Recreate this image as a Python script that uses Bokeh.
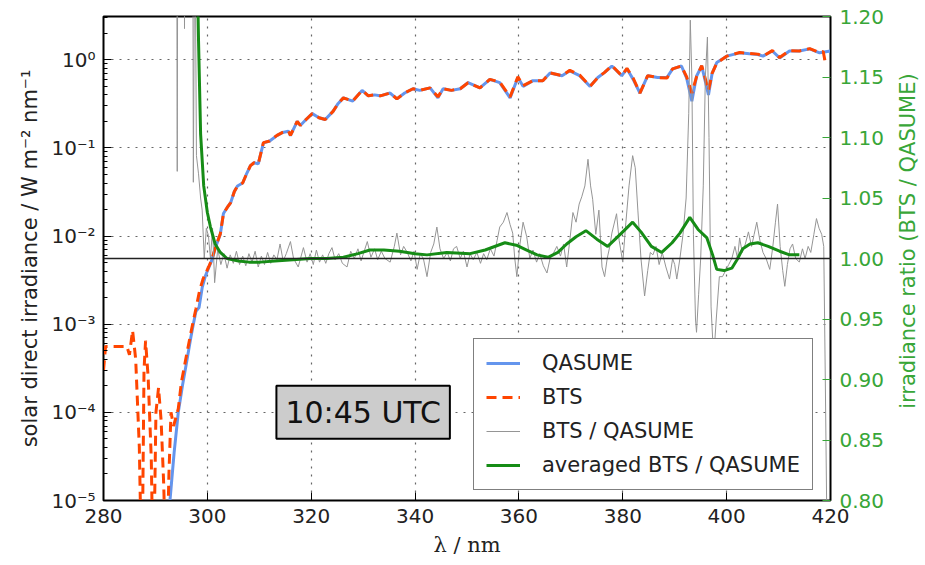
import math
from bokeh.plotting import figure
from bokeh.layouts import row
from bokeh.models import (Range1d, LinearScale, LinearAxis, FixedTicker, Legend,
                          LegendItem, Label, Span, NumeralTickFormatter)
from bokeh.embed import file_html
from bokeh.resources import INLINE

# ---------------- data ----------------
wl_qasume = [292.0, 292.8, 293.6, 294.4, 295.2, 296.1, 296.8, 297.3, 297.8, 298.4,
             299.0, 299.6, 300.2, 300.8, 301.6, 302.5, 303.1, 303.8, 304.5, 305.2,
             305.8, 306.8, 307.5, 308.3, 309.0, 309.8, 310.8, 312.0, 313.4, 314.5,
             315.6, 316.0, 317.3, 317.9, 319.0, 320.2, 321.5, 322.7, 324.2, 325.2,
             326.2, 328.0, 329.8, 331.0, 332.2, 333.3, 335.2, 336.5, 338.0, 339.6,
             340.9, 342.9, 344.4, 345.4, 347.0, 348.7, 350.2, 352.5, 354.4, 356.3,
             358.3, 359.8, 360.8, 362.7, 364.6, 366.0, 368.3, 369.8, 371.7, 373.7,
             375.2, 376.5, 377.9, 379.8, 380.8, 382.0, 383.3, 384.8, 386.7, 388.5,
             389.6, 391.3, 392.3, 393.3, 394.2, 395.2, 396.5, 397.2, 398.1, 400.0,
             402.5, 404.4, 406.0, 407.0, 408.8, 410.2, 412.1, 414.0, 416.0, 417.9,
             420.0]
qasume = [1e-6, 1e-5, 3.5e-5, 1e-4, 2e-4, 4e-4, 7e-4, 1e-3, 1.4e-3, 1.55e-3,
          2.6e-3, 3.5e-3, 4.3e-3, 5.2e-3, 7.5e-3, 1.05e-2, 1.8e-2, 2.1e-2, 2.4e-2, 3.2e-2,
          3.7e-2, 4.0e-2, 5.0e-2, 6.3e-2, 6.8e-2, 6.6e-2, 0.114, 0.12, 0.138, 0.15,
          0.155, 0.138, 0.20, 0.18, 0.21, 0.245, 0.22, 0.21, 0.26, 0.32,
          0.37, 0.34, 0.45, 0.39, 0.40, 0.39, 0.42, 0.36, 0.42, 0.47,
          0.45, 0.48, 0.37, 0.47, 0.45, 0.47, 0.55, 0.48, 0.60, 0.55,
          0.37, 0.63, 0.50, 0.58, 0.58, 0.71, 0.66, 0.75, 0.66, 0.50,
          0.63, 0.72, 0.85, 0.66, 0.79, 0.60, 0.42, 0.66, 0.63, 0.63,
          0.79, 0.85, 0.62, 0.34, 0.65, 0.85, 0.40, 0.70, 0.93, 1.10,
          1.20, 1.17, 1.15, 1.10, 1.26, 1.05, 1.26, 1.26, 1.33, 1.20,
          1.26]

wl_bts = [280.0, 280.4, 284.5, 285.0, 285.6, 286.2, 286.9, 287.4, 287.8, 288.1,
          288.6, 289.2, 289.6, 290.1, 290.6, 291.1, 291.6, 292.1, 292.6, 293.0,
          293.5, 294.0, 294.4, 295.0, 296.0, 297.0, 297.8, 298.5, 299.2, 300.2,
          300.8, 301.6, 302.5, 303.1, 303.8, 304.5, 305.2, 305.8, 306.8, 307.5,
          308.3, 309.0, 309.8, 310.8, 312.0, 313.4, 314.5, 315.6, 316.0, 317.3,
          317.9, 319.0, 320.2, 321.5, 322.7, 324.2, 325.2, 326.2, 328.0, 329.8,
          331.0, 332.2, 333.3, 335.2, 336.5, 338.0, 339.6, 340.9, 342.9, 344.4,
          345.4, 347.0, 348.7, 350.2, 352.5, 354.4, 356.3, 358.3, 359.8, 360.8,
          362.7, 364.6, 366.0, 368.3, 369.8, 371.7, 373.7, 375.2, 376.5, 377.9,
          379.8, 380.8, 382.0, 383.3, 384.8, 386.7, 388.5, 389.6, 391.3, 392.3,
          393.3, 394.2, 395.2, 396.5, 397.2, 398.1, 400.0, 402.5, 404.4, 406.0,
          407.0, 408.8, 410.2, 412.1, 414.0, 416.0, 417.9, 418.6, 419.0]
bts = [3.0e-4, 5.6e-4, 5.6e-4, 4.5e-4, 8.5e-4, 4.0e-4, 4.0e-5, 1e-6, 3.0e-4, 6.5e-4,
       2.5e-4, 3.0e-5, 1e-6, 1.0e-4, 1.9e-4, 8.0e-5, 1.5e-5, 1e-6, 2.0e-5, 1.0e-4,
       7.0e-5, 9.0e-5, 1.1e-4, 2.2e-4, 4.5e-4, 9.0e-4, 1.5e-3, 2.4e-3, 3.3e-3, 4.4e-3,
       5.3e-3, 7.6e-3, 1.06e-2, 1.8e-2, 2.1e-2, 2.4e-2, 3.2e-2, 3.7e-2, 4.0e-2, 5.0e-2,
       6.3e-2, 6.8e-2, 6.6e-2, 0.115, 0.12, 0.139, 0.15, 0.156, 0.139, 0.20,
       0.18, 0.21, 0.246, 0.22, 0.21, 0.26, 0.32, 0.37, 0.34, 0.45,
       0.39, 0.40, 0.39, 0.42, 0.36, 0.42, 0.47, 0.45, 0.48, 0.38,
       0.47, 0.45, 0.47, 0.55, 0.48, 0.60, 0.56, 0.38, 0.64, 0.51,
       0.58, 0.58, 0.71, 0.66, 0.76, 0.67, 0.50, 0.63, 0.72, 0.86,
       0.66, 0.80, 0.62, 0.42, 0.66, 0.63, 0.62, 0.79, 0.85, 0.64,
       0.42, 0.64, 0.86, 0.45, 0.70, 0.92, 1.10, 1.21, 1.18, 1.16,
       1.10, 1.27, 1.06, 1.27, 1.26, 1.34, 1.21, 1.24, 0.93]

wl_ratio = [293.8, 294.0, 294.2, 294.4, 295.4, 295.6, 295.8, 297.1, 297.3, 297.6,
            297.9, 298.3, 298.7, 299.0, 299.4, 299.8, 300.2, 300.6, 301.0, 301.4,
            302.0, 302.6, 303.2, 303.8, 304.4, 305.0, 305.6, 306.2, 306.8, 307.4,
            308.0, 308.6, 309.2, 309.8, 310.4, 311.0, 311.6, 312.2, 312.8, 313.4,
            314.0, 314.6, 315.2, 316.0, 316.6, 317.5, 318.5, 319.2, 319.8, 320.4,
            321.0, 321.6, 322.2, 322.8, 323.4, 324.0, 324.6, 325.3, 326.0, 326.9,
            327.6, 328.3, 329.0, 329.6, 330.2, 330.8, 331.5, 332.2, 332.8, 333.5,
            334.2, 335.2, 336.0, 336.5, 337.2, 337.8, 338.5, 339.2, 339.8, 340.4,
            341.0, 341.6, 342.3, 343.0, 343.6, 344.2, 344.8, 345.5, 346.2, 346.8,
            347.4, 348.0, 348.7, 349.3, 350.0, 350.6, 351.2, 351.9, 352.6, 353.2,
            353.8, 354.5, 355.2, 355.8, 356.3, 357.0, 357.7, 358.3, 358.8, 359.2,
            359.6, 360.2, 360.8, 361.5, 362.1, 362.7, 363.4, 364.0, 364.7, 365.4,
            366.0, 366.6, 367.3, 368.0, 368.6, 369.2, 369.8, 370.4, 371.0, 371.6,
            372.1, 372.7, 373.3, 373.8, 374.2, 374.8, 375.4, 376.0, 376.5, 377.0,
            377.5, 377.9, 378.8, 379.3, 380.0, 380.6, 381.2, 381.9, 382.4, 382.9,
            383.5, 384.2, 384.8, 385.3, 385.8, 386.4, 387.0, 387.6, 388.3, 389.0,
            389.6, 390.0, 390.4, 391.0, 391.6, 392.2, 392.7, 393.0, 393.3, 393.6,
            394.0, 394.2, 394.6, 395.0, 395.5, 395.9, 396.3, 396.6, 397.0, 397.5,
            398.0, 398.6, 399.2, 399.8, 400.4, 401.0, 401.6, 402.1, 402.5, 403.0,
            403.6, 404.2, 404.8, 405.3, 405.8, 406.4, 407.0, 407.6, 408.3, 408.9,
            409.4, 409.8, 410.3, 410.8, 411.2, 411.7, 412.2, 412.7, 413.3, 414.0,
            414.6, 415.1, 415.7, 416.2, 416.8, 417.3, 417.8, 418.3, 418.7, 419.0,
            419.3]
ratio = [1.5, 1.5, 1.072, 1.5, 1.5, 1.19, 1.5, 1.5, 1.063, 1.3,
         1.085, 1.07, 1.05, 1.04, 1.0, 1.025, 1.019, 1.0, 1.025, 0.98,
         1.008, 0.995, 1.004, 0.992, 1.003, 0.996, 1.006, 0.995, 1.002, 0.994,
         1.004, 0.997, 1.006, 0.993, 1.002, 0.995, 1.005, 0.996, 1.003, 0.999,
         1.012, 0.998, 1.004, 1.014, 1.000, 0.993, 1.009, 0.997, 1.004, 0.995,
         1.007, 0.997, 1.003, 0.996, 1.004, 1.009, 0.999, 1.004, 0.996, 0.993,
         1.006, 1.000, 1.008, 0.998, 1.006, 1.014, 1.001, 1.008, 0.999, 1.006,
         1.000, 0.997, 1.010, 1.021, 1.003, 1.010, 1.005, 0.998, 1.006, 0.991,
         1.004, 1.000, 0.985, 1.005, 1.012, 1.026, 1.008, 1.000, 1.005, 0.998,
         1.008, 1.010, 1.000, 1.006, 0.993, 1.004, 0.999, 1.005, 0.996, 1.004,
         0.999, 1.008, 1.002, 1.015, 1.026, 1.030, 1.038, 1.028, 1.021, 1.000,
         0.985, 1.012, 1.030, 1.018, 1.000, 1.007, 0.997, 1.004, 0.994, 0.988,
         1.000, 1.004, 1.010, 1.002, 1.012, 0.993, 1.015, 1.038, 1.030, 1.045,
         1.051, 1.060, 1.082, 1.060, 1.049, 1.020, 1.040, 0.993, 0.985, 1.000,
         1.010, 1.021, 1.037, 1.015, 0.997, 1.030, 1.060, 1.085, 1.075, 1.040,
         1.000, 0.969, 0.990, 1.005, 1.003, 1.010, 0.995, 1.005, 0.993, 0.983,
         1.000, 0.995, 0.983, 1.000, 1.020, 1.050, 1.120, 1.197, 1.150, 1.020,
         0.950, 0.939, 0.970, 1.000, 1.060, 1.150, 1.183, 1.100, 0.960, 0.917,
         0.950, 0.985, 0.985, 0.990, 0.995, 1.000, 1.010, 1.000, 1.017, 1.005,
         1.012, 1.022, 1.010, 1.020, 1.030, 1.015, 1.005, 1.000, 0.991, 1.010,
         1.030, 1.045, 1.010, 0.990, 0.977, 0.995, 1.008, 1.012, 1.000, 0.997,
         1.008, 1.000, 1.010, 1.005, 1.020, 1.033, 1.025, 1.020, 1.010, 0.900,
         0.780]

wl_avg = [298.0, 298.3, 298.7, 299.3, 300.0, 300.6, 301.5, 302.5, 303.8, 306.0,
          308.0, 310.2, 313.0, 316.5, 319.8, 323.0, 326.2, 329.0, 331.3, 334.0,
          337.0, 340.0, 342.3, 346.1, 350.6, 353.5, 357.3, 359.5, 361.5, 363.5,
          365.6, 367.5, 369.2, 371.0, 372.9, 375.0, 377.1, 379.5, 381.9, 383.5,
          385.5, 387.5, 389.5, 391.0, 392.9, 394.5, 396.2, 397.3, 398.1, 399.5,
          401.0, 402.0, 403.1, 404.5, 406.0, 408.0, 410.2, 412.1, 414.0]
ratio_avg = [1.25, 1.18, 1.103, 1.06, 1.038, 1.026, 1.012, 1.005, 1.000, 0.998,
             0.997, 0.997, 0.998, 0.999, 1.000, 1.000, 1.001, 1.004, 1.007, 1.007,
             1.006, 1.004, 1.003, 1.005, 1.004, 1.007, 1.013, 1.011, 1.007, 1.003,
             1.001, 1.005, 1.012, 1.018, 1.023, 1.016, 1.010, 1.020, 1.030, 1.022,
             1.010, 1.005, 1.013, 1.021, 1.034, 1.024, 1.017, 1.003, 0.991, 0.990,
             0.992, 0.999, 1.008, 1.012, 1.013, 1.010, 1.006, 1.003, 1.003]

x_ticks = [280, 300, 320, 340, 360, 380, 400, 420]
y_ticks = [1e-5, 1e-4, 1e-3, 1e-2, 1e-1, 1e0]
y_tick_labels = ["10\u207b\u2075", "10\u207b\u2074", "10\u207b\u00b3",
                 "10\u207b\u00b2", "10\u207b\u00b9", "10\u2070"]
ratio_ticks = [0.80, 0.85, 0.90, 0.95, 1.00, 1.05, 1.10, 1.15, 1.20]
ratio_label = "irradiance ratio (BTS / QASUME)"
time_text = "10:45 UTC"
time_x, time_y = 330, 1e-4

# ---------------- styling ----------------
BLUE = "#6495ED"
ORANGE = "#FF4500"
GRAY = "#959595"
GREEN_LINE = "#168c16"
GREEN_TEXT = "#38a638"
FONT = "DejaVu Sans"

p = figure(width=895, height=560, x_range=Range1d(280, 420), y_range=Range1d(1e-5, 3.1),
           y_axis_type="log", output_backend="svg", toolbar_location=None,
           min_border_left=103, min_border_right=65, min_border_top=16, min_border_bottom=60)
p.extra_y_ranges = {"ratio": Range1d(0.80, 1.20)}
p.extra_y_scales = {"ratio": LinearScale()}

p.outline_line_color = "black"
p.outline_line_width = 2
p.background_fill_color = "white"

minor_y = [m * 10.0 ** e for e in range(-5, 1) for m in range(2, 10)]

xa = p.xaxis[0]
xa.ticker = FixedTicker(ticks=x_ticks)
ya = p.yaxis[0]
ya.ticker = FixedTicker(ticks=y_ticks, minor_ticks=minor_y)
ya.major_label_overrides = {v: s for v, s in zip(y_ticks, y_tick_labels)}

for ax in (xa, ya):
    ax.major_tick_in = 8
    ax.major_tick_out = 0
    ax.minor_tick_in = 4
    ax.minor_tick_out = 0
    ax.axis_line_color = "black"
    ax.major_tick_line_color = "black"
    ax.minor_tick_line_color = "black"
    ax.major_label_text_font = FONT
    ax.major_label_text_font_size = "20px"
    ax.major_label_text_color = "#222222"
    ax.major_label_standoff = 8
    ax.axis_label_text_font_style = "normal"
    ax.axis_label_text_color = "#222222"

xa.axis_label = "\u03bb / nm"
xa.axis_label_text_font = "DejaVu Serif"
xa.axis_label_text_font_size = "21px"
xa.axis_label_standoff = 7
xa.minor_tick_line_color = None

ya.axis_label = "solar direct irradiance / W m\u207b\u00b2 nm\u207b\u00b9"
ya.axis_label_text_font = FONT
ya.axis_label_text_font_size = "21px"
ya.axis_label_standoff = 6

right = LinearAxis(y_range_name="ratio", ticker=FixedTicker(ticks=ratio_ticks),
                   formatter=NumeralTickFormatter(format="0.00"),
                   major_tick_in=8, major_tick_out=0, minor_tick_line_color=None,
                   axis_line_color="black", major_tick_line_color=GREEN_TEXT,
                   major_label_text_color=GREEN_TEXT, major_label_text_font=FONT,
                   major_label_text_font_size="20px", major_label_standoff=9)
p.add_layout(right, "right")

p.xgrid.grid_line_color = "#666666"
p.xgrid.grid_line_dash = "2 6"
p.xgrid.grid_line_width = 1.2
p.ygrid.grid_line_color = "#666666"
p.ygrid.grid_line_dash = "2 6"
p.ygrid.grid_line_width = 1.2

# ---------------- glyphs ----------------
r_q = p.line(wl_qasume, qasume, line_color=BLUE, line_width=3)
r_b = p.line(wl_bts, bts, line_color=ORANGE, line_width=3, line_dash="10 6")
r_r = p.line(wl_ratio, ratio, line_color=GRAY, line_width=1, y_range_name="ratio")
r_a = p.line(wl_avg, ratio_avg, line_color=GREEN_LINE, line_width=3, y_range_name="ratio")

p.add_layout(Span(location=1.0, dimension="width", y_range_name="ratio",
                  line_color="#222222", line_width=1.5))

p.add_layout(Label(x=time_x, y=time_y, text=time_text, text_align="center",
                   text_baseline="middle", text_font=FONT, text_font_size="30px",
                   text_color="#111111",
                   background_fill_color="#cccccc", border_line_color="black",
                   border_line_width=2, padding=9))

legend = Legend(items=[LegendItem(label="QASUME", renderers=[r_q]),
                       LegendItem(label="BTS", renderers=[r_b]),
                       LegendItem(label="BTS / QASUME", renderers=[r_r]),
                       LegendItem(label="averaged BTS / QASUME", renderers=[r_a])],
                location=(370, 10), label_text_font=FONT, label_text_font_size="21px",
                label_text_color="#222222",
                glyph_width=34, glyph_height=22, label_height=22, spacing=10,
                padding=12, label_standoff=22, margin=0,
                border_line_color="black", border_line_width=1.5,
                background_fill_color="white", background_fill_alpha=1.0)
p.add_layout(legend, "center")

# narrow strip to the right holding the right-axis title, reading bottom-to-top
strip = figure(width=30, height=560, x_range=Range1d(0, 1), y_range=Range1d(0, 1),
               output_backend="svg", toolbar_location=None, min_border=0,
               x_axis_location=None, y_axis_location=None)
strip.outline_line_color = None
strip.grid.visible = False
strip.add_layout(Label(x=0.43, y=0.536, text=ratio_label, angle=math.pi / 2,
                       text_align="center", text_baseline="middle", text_font=FONT,
                       text_font_size="21px", text_color=GREEN_TEXT))

layout = row(p, strip, spacing=0)

open("out.html", "w").write(file_html(layout, INLINE))
